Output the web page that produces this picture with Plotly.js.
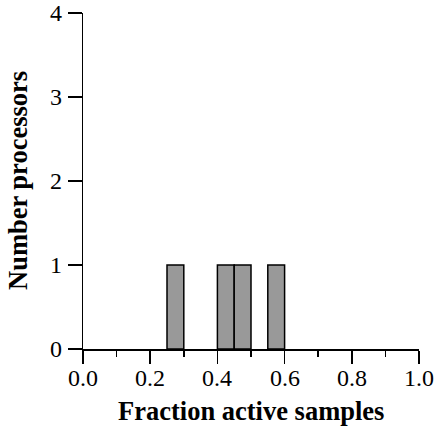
<!DOCTYPE html>
<html>
<head>
<meta charset="utf-8">
<script src="https://cdn.plot.ly/plotly-3.0.1.min.js"></script>
<style>
html,body{margin:0;padding:0;background:#fff;}
</style>
</head>
<body>
<div id="chart" style="width:438px;height:434px"></div>
<script>
// Histogram bins (left edges), bin width 0.05, and processor counts
const binLeft = [0.25, 0.40, 0.45, 0.55];
const counts = [1, 1, 1, 1];
const binWidth = 0.05;
const xTickVals = [0, 0.2, 0.4, 0.6, 0.8, 1.0];
const xTickText = ['0.0', '0.2', '0.4', '0.6', '0.8', '1.0'];
const xMinorVals = [0.1, 0.3, 0.5, 0.7, 0.9];
const yTickVals = [0, 1, 2, 3, 4];
const yTickText = ['0', '1', '2', '3', '4'];
const xTitle = 'Fraction active samples';
const yTitle = 'Number processors';

const centers = binLeft.map(v => v + binWidth / 2);
const serifFam = 'Liberation Serif';
const tickFont = {size: 24, family: serifFam, color: '#000000'};
const titleFont = {size: 26.5, family: serifFam, color: '#000000'};

const annotations = [];
xTickVals.forEach((v, i) => annotations.push({
  x: v, xref: 'x', y: 0, yref: 'paper', xanchor: 'center', yanchor: 'middle',
  yshift: -29, showarrow: false, text: xTickText[i], font: tickFont
}));
yTickVals.forEach((v, i) => annotations.push({
  x: 0, xref: 'paper', y: v, yref: 'y', xanchor: 'right', yanchor: 'middle',
  xshift: -19, showarrow: false, text: yTickText[i], font: tickFont
}));
annotations.push({
  x: 0.5, xref: 'paper', y: 0, yref: 'paper', xanchor: 'center', yanchor: 'middle',
  yshift: -62, showarrow: false, text: '<b>' + xTitle + '</b>', font: titleFont
});
annotations.push({
  x: 0, xref: 'paper', y: 0.5, yref: 'paper', xanchor: 'center', yanchor: 'middle',
  xshift: -65, textangle: -90, showarrow: false, text: '<b>' + yTitle + '</b>', font: titleFont
});

Plotly.newPlot('chart', [{
  type: 'bar',
  x: centers,
  y: counts,
  width: binWidth,
  marker: {color: '#999999', line: {color: '#000000', width: 1.5}},
  hoverinfo: 'skip'
}], {
  width: 438, height: 434,
  margin: {l: 83, r: 19, t: 13, b: 85},
  paper_bgcolor: '#ffffff', plot_bgcolor: '#ffffff',
  showlegend: false,
  xaxis: {
    range: [0, 1], tickvals: xTickVals, showticklabels: false,
    ticks: 'outside', ticklen: 13, tickwidth: 1.5, tickcolor: '#000000',
    showline: true, linecolor: '#000000', linewidth: 1.5,
    showgrid: false, zeroline: false,
    minor: {tickvals: xMinorVals, ticks: 'outside', ticklen: 6, tickwidth: 1.5, tickcolor: '#000000', showgrid: false}
  },
  yaxis: {
    range: [0, 4], tickvals: yTickVals, showticklabels: false,
    ticks: 'outside', ticklen: 14, tickwidth: 1.5, tickcolor: '#000000',
    showline: true, linecolor: '#000000', linewidth: 1.5,
    showgrid: false, zeroline: false
  },
  annotations: annotations
}, {staticPlot: true});
</script>
</body>
</html>
